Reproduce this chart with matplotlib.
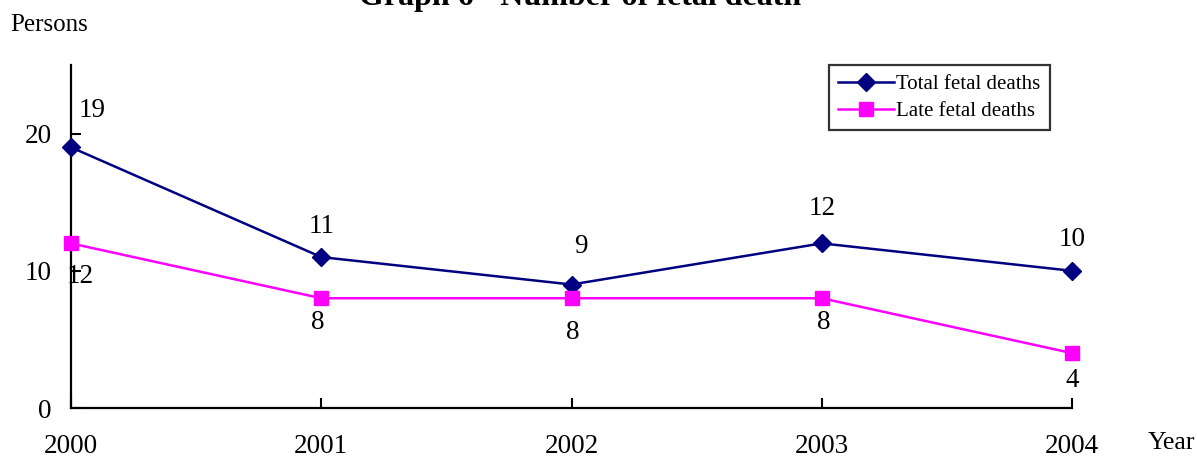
import numpy as np
import matplotlib
matplotlib.use("Agg")
import matplotlib.pyplot as plt

# ─── Dades ────────────────────────────────────────────────────────────────────

years = [2000, 2001, 2002, 2003, 2004]
total_fetal = [19, 11, 9, 12, 10]
late_fetal = [12, 8, 8, 8, 4]
yticks = [0, 10, 20]

# label offsets in pixels (dx, dy)
total_offsets = [(21, 37), (0, 31), (9, 38), (0, 35), (0, 31)]
late_offsets = [(9, -33), (-3, -24), (1, -34), (2, -24), (0, -27)]

NAVY = "#000080"
MAGENTA = "#FF00FF"

plt.rcParams.update({
    "font.family": ["Liberation Serif", "DejaVu Serif"],
    "axes.linewidth": 1.6,
})

fig = plt.figure(figsize=(11.97, 4.58), dpi=100)
ax = fig.add_axes([71 / 1197, 1 - 408 / 458, 1001 / 1197, 343 / 458])

ax.plot(years, total_fetal, color=NAVY, linewidth=1.8, marker="D",
        markersize=9.5, label="Total fetal deaths", clip_on=False, zorder=3)
ax.plot(years, late_fetal, color=MAGENTA, linewidth=1.8, marker="s",
        markersize=10, label="Late fetal deaths", clip_on=False, zorder=3)

for x, v, (dx, dy) in zip(years, total_fetal, total_offsets):
    ax.annotate(str(v), (x, v), xytext=(dx, dy), textcoords="offset pixels",
                ha="center", va="center", fontsize=19.5)
for x, v, (dx, dy) in zip(years, late_fetal, late_offsets):
    ax.annotate(str(v), (x, v), xytext=(dx, dy), textcoords="offset pixels",
                ha="center", va="center", fontsize=19.5)

ax.set_xlim(2000, 2004)
ax.set_ylim(0, 25)
ax.set_xticks(years)
ax.set_xticklabels([str(y) for y in years])
ax.set_yticks(yticks)
ax.tick_params(axis="both", direction="in", length=7, width=1.5,
               labelsize=19.5, colors="black")
ax.tick_params(axis="x", pad=19)
ax.tick_params(axis="y", pad=14)

ax.spines["top"].set_visible(False)
ax.spines["right"].set_visible(False)

leg = ax.legend(loc="upper right", bbox_to_anchor=(0.978, 1.0),
                borderaxespad=0, fontsize=15, frameon=True, fancybox=False,
                handlelength=2.7, borderpad=0.45, labelspacing=0.35,
                handletextpad=0.1)
leg.get_frame().set_edgecolor("black")
leg.get_frame().set_linewidth(1.6)

fig.text(580 / 1197, 1 - 5 / 458, "Graph 6 - Number of fetal death",
         ha="center", va="baseline", fontsize=23, fontweight="bold")
fig.text(10 / 1197, 1 - 25 / 458, "Persons", ha="left", va="center",
         fontsize=18)
fig.text(1148 / 1197, 1 - 443 / 458, "Year", ha="left", va="center",
         fontsize=18.5)

fig.savefig("out.png", dpi=100)
